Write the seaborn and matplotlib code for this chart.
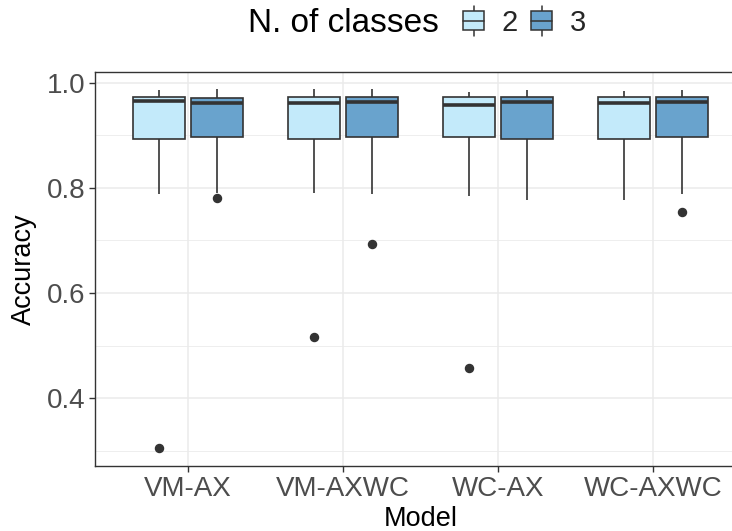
import matplotlib
matplotlib.use("Agg")
import matplotlib.pyplot as plt
from matplotlib.legend_handler import HandlerBase
from matplotlib.lines import Line2D
from matplotlib.patches import Rectangle
import seaborn as sns
import pandas as pd

# Accuracy summaries per model and number of classes
models = ["VM-AX", "VM-AXWC", "WC-AX", "WC-AXWC"]
classes = ["2", "3"]
whisker_low = [[0.789, 0.790], [0.791, 0.789], [0.785, 0.778], [0.778, 0.789]]
q1 = [[0.893, 0.897], [0.894, 0.897], [0.897, 0.894], [0.894, 0.897]]
median = [[0.966, 0.962], [0.962, 0.964], [0.959, 0.964], [0.961, 0.963]]
q3 = [[0.973, 0.972], [0.974, 0.973], [0.973, 0.973], [0.973, 0.973]]
whisker_high = [[0.987, 0.988], [0.988, 0.988], [0.983, 0.987], [0.985, 0.987]]
outliers = [[0.305, 0.780], [0.516, 0.693], [0.457, None], [None, 0.754]]

fill_colors = {"2": "#C3EAFA", "3": "#69A3CD"}
edge = "#333333"

# Build samples whose quartiles, whiskers and outliers reproduce the summaries
rows = []
for i, m in enumerate(models):
    for j, c in enumerate(classes):
        low = outliers[i][j] if outliers[i][j] is not None else whisker_low[i][j]
        vals = [low, whisker_low[i][j], q1[i][j], q1[i][j], median[i][j],
                q3[i][j], q3[i][j], whisker_high[i][j], whisker_high[i][j]]
        rows += [{"Model": m, "N. of classes": c, "Accuracy": v} for v in vals]
df = pd.DataFrame(rows)

sns.set_style("white")
plt.rcParams["font.family"] = ["Liberation Sans", "DejaVu Sans"]

fig = plt.figure(figsize=(7.32, 5.31), dpi=100)
ax = fig.add_axes([95 / 732, 1 - 466 / 531, (746 - 95) / 732, (466 - 71.7) / 531])

sns.boxplot(
    data=df, x="Model", y="Accuracy", hue="N. of classes", order=models,
    hue_order=classes, palette=fill_colors, saturation=1, width=0.75, gap=0.1,
    linecolor=edge, linewidth=1.2, showcaps=False, whis=1.5,
    medianprops=dict(color=edge, linewidth=2.6),
    flierprops=dict(marker="o", markerfacecolor=edge, markeredgecolor=edge,
                    markersize=5.8),
    ax=ax,
)

if ax.get_legend() is not None:
    ax.get_legend().remove()

ax.set_xlim(-0.6, 3.6)
ax.set_ylim(0.2705, 1.0215)
ax.set_yticks([0.4, 0.6, 0.8, 1.0])
ax.set_yticklabels(["0.4", "0.6", "0.8", "1.0"])
ax.set_yticks([0.3, 0.5, 0.7, 0.9], minor=True)
ax.set_axisbelow(True)
ax.grid(True, which="major", color="#EBEBEB", linewidth=1.1)
ax.grid(True, which="minor", axis="y", color="#EBEBEB", linewidth=0.6)
ax.tick_params(axis="both", which="major", length=4, width=1.0, color=edge,
               labelsize=20, labelcolor="#4D4D4D", pad=3, left=True, bottom=True)
ax.tick_params(axis="y", which="minor", length=0)
for sp in ax.spines.values():
    sp.set_visible(True)
    sp.set_color(edge)
    sp.set_linewidth(1.0)

ax.set_xlabel("Model", fontsize=19.5, color="black", labelpad=3)
ax.set_ylabel("Accuracy", fontsize=19.5, color="black", labelpad=7)


class BoxKeyHandler(HandlerBase):
    def create_artists(self, legend, orig_handle, xdescent, ydescent,
                       width, height, fontsize, trans):
        fc = orig_handle.get_facecolor()
        x0, y0 = -xdescent, -ydescent
        stem = Line2D([x0 + width / 2] * 2, [y0 - height * 0.3, y0 + height * 1.3],
                      color=edge, linewidth=1.1, transform=trans)
        box = Rectangle((x0, y0), width, height, facecolor=fc, edgecolor=edge,
                        linewidth=1.1, transform=trans)
        mid = Line2D([x0, x0 + width], [y0 + height / 2] * 2, color=edge,
                     linewidth=1.1, transform=trans)
        return [stem, box, mid]


fig.text(248 / 732, 1 - 23 / 531, "N. of classes", fontsize=24, ha="left",
         va="center", color="black")
key_handles = [Rectangle((0, 0), 1, 1, facecolor=fill_colors[c]) for c in classes]
fig.legend(key_handles, classes, loc="center left",
           bbox_to_anchor=(443 / 732, 1 - 23 / 531), ncol=2, frameon=False,
           fontsize=21, handlelength=0.72, handleheight=0.62,
           handletextpad=0.6, columnspacing=0.45, borderpad=0.2,
           handler_map={Rectangle: BoxKeyHandler()})

fig.savefig("out.png", dpi=100)
